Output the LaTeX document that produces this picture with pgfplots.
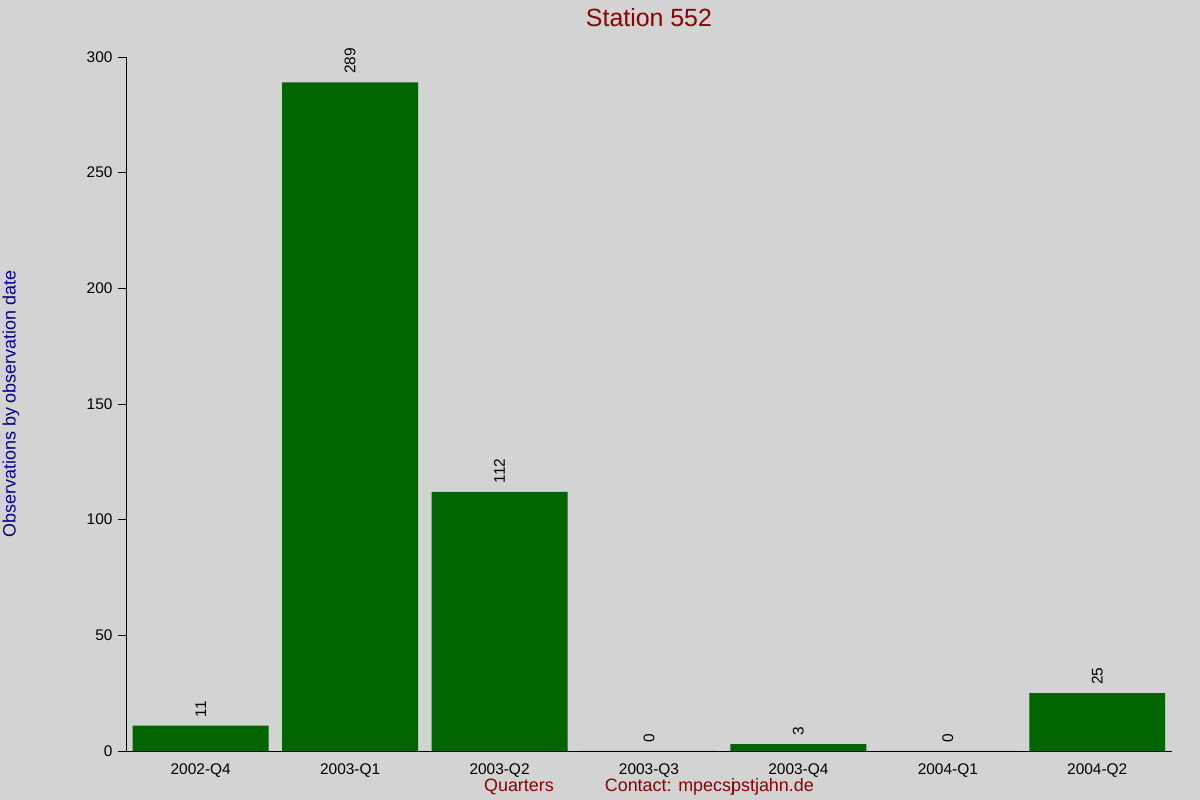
\documentclass[border=0pt]{standalone}
\usepackage{fontspec}
\setmainfont{Liberation Sans}
\usepackage{pgfplots}
\pgfplotsset{compat=1.18}
\definecolor{bgc}{RGB}{211,211,211}
\definecolor{barc}{RGB}{0,100,0}
\definecolor{titc}{RGB}{139,0,0}
\definecolor{ylc}{RGB}{0,0,139}
\begin{document}
\begin{tikzpicture}[x=1bp,y=1bp]
\fill[bgc] (-126,-49) rectangle (1074,751);
\useasboundingbox (-126,-49) rectangle (1074,751);
\begin{axis}[
    at={(0,0)}, anchor=south west,
    scale only axis, width=1046bp, height=694bp,
    axis background/.style={fill=bgc},
    ybar, bar width=0.91,
    xmin=-0.5, xmax=6.5, ymin=0, ymax=300,
    axis x line*=bottom, axis y line*=left,
    axis line style={black, line width=0.8pt, -},
    xtick=data,
    xticklabels={2002-Q4,2003-Q1,2003-Q2,2003-Q3,2003-Q4,2004-Q1,2004-Q2},
    x tick style={draw=none},
    ytick={0,50,...,300},
    y tick style={black, line width=0.8pt},
    tick align=outside, major tick length=8bp,
    /pgf/number format/assume math mode=true,
    tick label style={font=\fontsize{15.5}{18}\selectfont},
    xticklabel style={yshift=-1bp},
    yticklabel style={xshift=-2bp},
    title={Station 552},
    title style={at={(axis description cs:0.5,1)}, anchor=center, yshift=33bp,
        font=\fontsize{25}{28}\selectfont, text=titc},
    xlabel={Quarters\hspace{51bp}Contact: mpecs\rlap{j}pstjahn.de},
    xlabel style={at={(axis description cs:0.5,0)}, anchor=center, yshift=-36bp,
        font=\fontsize{18}{20}\selectfont, text=titc},
    ylabel={Observations by observation date},
    ylabel style={at={(axis description cs:0,0.5)}, anchor=center, yshift=115bp,
        font=\fontsize{18}{20}\selectfont, text=ylc},
    nodes near coords,
    nodes near coords style={rotate=90, anchor=west, xshift=5bp, text=black,
        font=\fontsize{15.5}{18}\selectfont},
    clip=false,
]
\addplot[fill=barc, draw=none] coordinates {
    (0,11) (1,289) (2,112) (3,0) (4,3) (5,0) (6,25)
};
\end{axis}
\end{tikzpicture}
\end{document}
